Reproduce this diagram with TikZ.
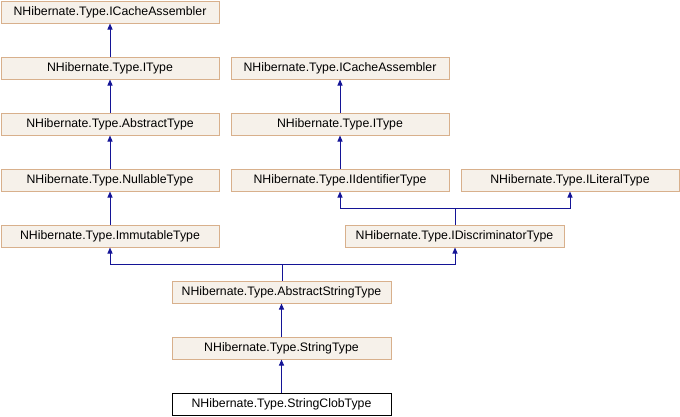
\documentclass[tikz,border=0pt]{standalone}
\usepackage{fontspec}
\setmainfont{Liberation Sans}
\usepackage{tikz}
\usetikzlibrary{arrows.meta,positioning}
\definecolor{clsfill}{RGB}{246,241,234}
\definecolor{clsline}{RGB}{216,176,140}
\definecolor{inhblue}{RGB}{20,20,150}

\begin{document}
\begin{tikzpicture}[x=1pt, y=-1pt,
    cls/.style={draw=clsline, fill=clsfill, line width=1pt, minimum width=218pt,
                minimum height=22pt, inner sep=0pt, font=\fontsize{12.3}{14}\selectfont},
    leaf/.style={cls, draw=black, fill=white},
    inh/.style={draw=inhblue, line width=1pt, -{Triangle[length=6pt,width=5pt]}}]
    \useasboundingbox (0,0) rectangle (680,416);
    % left column
    \node[cls] (cache1) at (110,12)  {NHibernate.Type.ICacheAssembler};
    \node[cls] (itype1) at (110,68)  {NHibernate.Type.IType};
    \node[cls] (abstr)  at (110,124) {NHibernate.Type.AbstractType};
    \node[cls] (nullab) at (110,180) {NHibernate.Type.NullableType};
    \node[cls] (immut)  at (110,236) {NHibernate.Type.ImmutableType};
    % right part
    \node[cls] (cache2) at (340,68)  {NHibernate.Type.ICacheAssembler};
    \node[cls] (itype2) at (340,124) {NHibernate.Type.IType};
    \node[cls] (ident)  at (340,180) {NHibernate.Type.IIdentifierType};
    \node[cls] (liter)  at (570,180) {NHibernate.Type.ILiteralType};
    \node[cls, minimum width=219pt] (discr) at (454.5,236) {NHibernate.Type.IDiscriminatorType};
    % string types
    \node[cls, minimum width=219pt] (astr) at (281.5,292) {NHibernate.Type.AbstractStringType};
    \node[cls, minimum width=219pt] (str)  at (281.5,348) {NHibernate.Type.StringType};
    \node[leaf, minimum width=219pt] (clob) at (281.5,404) {NHibernate.Type.StringClobType};
    \coordinate (jdis) at (455,208);
    \coordinate (jstr) at (282,264);

    \draw[inh] (itype1) -- (cache1);
    \draw[inh] (abstr) -- (itype1);
    \draw[inh] (nullab) -- (abstr);
    \draw[inh] (immut) -- (nullab);
    \draw[inh] (itype2) -- (cache2);
    \draw[inh] (ident) -- (itype2);
    \draw[inh] (discr.north -| jdis) -- (jdis) -| (ident.south);
    \draw[inh] (discr.north -| jdis) -- (jdis) -| (liter.south);
    \draw[inh] (astr.north -| jstr) -- (jstr) -| (immut.south);
    \draw[inh] (astr.north -| jstr) -- (jstr) -| (discr.south -| jdis);
    \draw[inh] (str) -- (astr);
    \draw[inh] (clob) -- (str);
\end{tikzpicture}
\end{document}
